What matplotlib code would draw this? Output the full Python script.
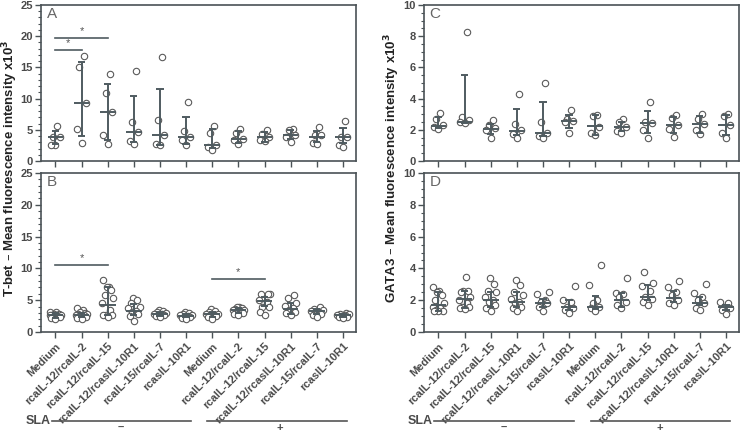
import numpy as np
import matplotlib
matplotlib.use("Agg")
import matplotlib.pyplot as plt
from matplotlib.ticker import MultipleLocator

plt.rcParams['font.family'] = ['Liberation Sans', 'DejaVu Sans']

categories = ["Medium", "rcaIL-12/rcaIL-2", "rcaIL-12/rcaIL-15", "rcaIL-12/rcasIL-10R1",
              "rcaIL-15/rcaIL-7", "rcasIL-10R1"] * 2
sla_groups = ["–", "+"]

# ---- Panel A: T-bet, 5 donors ----
A_points = [
    [5.6, 3.8, 3.8, 2.5, 2.5],
    [16.8, 15.0, 9.3, 5.1, 2.9],
    [14.0, 10.9, 7.9, 4.2, 2.7],
    [14.5, 6.3, 4.6, 3.2, 2.8],
    [16.6, 6.5, 4.2, 2.7, 2.5],
    [9.5, 4.8, 3.9, 3.4, 2.5],
    [5.6, 4.5, 2.5, 2.3, 1.8],
    [5.2, 4.5, 3.5, 3.4, 2.7],
    [5.0, 4.3, 3.9, 3.3, 3.2],
    [5.2, 4.9, 4.2, 3.8, 3.1],
    [5.5, 4.2, 4.2, 2.9, 2.7],
    [6.4, 3.9, 3.9, 2.6, 2.3],
]
A_median = [3.8, 9.3, 7.9, 4.6, 4.2, 3.9, 2.5, 3.5, 3.9, 4.2, 3.9, 3.9]
A_q1 = [2.8, 4.0, 3.4, 3.0, 2.6, 2.8, 2.1, 2.9, 3.1, 3.5, 3.0, 2.9]
A_q3 = [4.8, 15.9, 12.4, 10.4, 11.5, 7.1, 5.1, 4.8, 4.6, 5.0, 4.8, 5.3]

# ---- Panel B: T-bet, more donors ----
B_points = [
    [3.2, 3.1, 2.9, 2.8, 2.7, 2.6, 2.6, 2.5, 2.4, 2.3, 2.2, 2.0],
    [3.8, 3.5, 3.2, 3.0, 2.9, 2.8, 2.7, 2.6, 2.5, 2.4, 2.2, 2.0],
    [8.2, 7.1, 7.0, 6.6, 5.8, 5.3, 4.5, 3.5, 2.6, 2.6, 2.6, 2.4],
    [5.4, 5.1, 4.6, 4.0, 3.7, 3.3, 3.1, 2.8, 2.5, 1.7],
    [3.4, 3.3, 3.2, 3.0, 2.9, 2.8, 2.7, 2.6, 2.5, 2.4],
    [3.2, 3.0, 2.8, 2.7, 2.6, 2.5, 2.4, 2.3, 2.2, 2.1],
    [3.6, 3.3, 3.1, 2.9, 2.8, 2.7, 2.6, 2.5, 2.3, 2.1],
    [4.0, 3.9, 3.7, 3.6, 3.5, 3.4, 3.3, 3.2, 3.0, 2.8, 2.7],
    [5.9, 5.9, 5.9, 5.0, 4.7, 4.0, 3.9, 3.2, 2.7],
    [5.8, 5.3, 4.5, 4.1, 3.8, 3.5, 3.2, 3.0, 2.7],
    [3.9, 3.6, 3.4, 3.3, 3.2, 3.0, 2.8, 2.6, 2.4],
    [3.0, 2.9, 2.8, 2.7, 2.6, 2.5, 2.4, 2.3, 2.2],
]
B_median = [2.6, 2.7, 4.3, 3.3, 2.8, 2.5, 2.8, 3.4, 4.8, 3.6, 3.3, 2.6]
B_q1 = [2.2, 2.4, 2.6, 2.6, 2.5, 2.3, 2.4, 3.0, 4.1, 2.9, 2.8, 2.4]
B_q3 = [3.0, 3.0, 7.0, 4.4, 3.1, 2.8, 3.2, 3.7, 5.5, 4.6, 3.6, 2.8]

# ---- Panel C: GATA3, 5 donors ----
C_points = [
    [3.05, 2.7, 2.3, 2.15, 2.05],
    [8.25, 2.8, 2.6, 2.5, 2.45],
    [2.6, 2.3, 2.1, 2.0, 1.5],
    [4.3, 2.4, 2.0, 1.7, 1.5],
    [5.0, 2.5, 1.8, 1.6, 1.47],
    [3.27, 2.71, 2.54, 2.52, 1.8],
    [2.97, 2.9, 2.2, 1.8, 1.65],
    [2.7, 2.5, 2.2, 1.95, 1.8],
    [3.78, 2.5, 2.44, 2.0, 1.5],
    [2.97, 2.73, 2.3, 2.03, 1.57],
    [3.0, 2.7, 2.36, 2.0, 1.7],
    [3.0, 2.88, 2.3, 1.8, 1.47],
]
C_median = [2.25, 2.5, 2.07, 1.95, 1.8, 2.54, 2.26, 2.2, 2.44, 2.3, 2.36, 2.3]
C_q1 = [2.1, 2.45, 1.75, 1.65, 1.6, 2.1, 1.67, 1.9, 1.8, 1.8, 1.82, 1.67]
C_q3 = [2.84, 5.5, 2.4, 3.35, 3.76, 2.95, 2.95, 2.5, 3.18, 2.84, 2.87, 2.95]

# ---- Panel D: GATA3, more donors ----
D_points = [
    [2.85, 2.6, 2.5, 2.3, 2.0, 1.8, 1.6, 1.5, 1.4, 1.35, 1.3, 1.3],
    [3.45, 2.6, 2.55, 2.5, 2.2, 2.0, 1.8, 1.6, 1.55, 1.5, 1.45],
    [3.4, 3.05, 2.6, 2.5, 2.2, 2.0, 1.9, 1.7, 1.5, 1.3],
    [3.25, 2.95, 2.5, 2.3, 2.1, 1.9, 1.8, 1.6, 1.5, 1.3],
    [2.49, 2.37, 2.0, 1.9, 1.8, 1.6, 1.3],
    [2.9, 2.04, 1.9, 1.6, 1.5, 1.36, 1.2],
    [4.2, 2.93, 2.0, 1.8, 1.6, 1.5, 1.3],
    [3.4, 2.47, 2.37, 2.2, 1.9, 1.7, 1.5],
    [3.8, 3.1, 2.9, 2.6, 2.2, 2.1, 1.9, 1.7],
    [3.2, 2.8, 2.5, 2.3, 2.0, 1.8, 1.7],
    [3.0, 2.47, 2.2, 2.0, 1.8, 1.5, 1.36],
    [1.9, 1.8, 1.6, 1.5, 1.4, 1.16],
]
D_median = [1.7, 2.1, 2.0, 1.9, 1.83, 1.56, 1.56, 2.04, 2.2, 2.14, 1.85, 1.56]
D_q1 = [1.35, 1.5, 1.55, 1.55, 1.6, 1.4, 1.43, 1.6, 2.0, 1.9, 1.7, 1.4]
D_q3 = [2.5, 2.55, 2.5, 2.5, 2.1, 2.04, 2.27, 2.47, 2.93, 2.58, 2.2, 1.7]

# significance brackets: (start index, end index, height)
A_sig = [(0, 1, 17.8), (0, 2, 19.7)]
B_sig = [(0, 2, 10.5), (6, 8, 8.3)]

LINE = "#4f5b60"
PT = "#5a5a5a"
SPINE = "#4a5256"
W, H = 741, 433

fig = plt.figure(figsize=(W / 100, H / 100), dpi=100)


def px_axes(x0, y0, x1, y1):
    return fig.add_axes([x0 / W, 1 - y1 / H, (x1 - x0) / W, (y1 - y0) / H])


def jitter(n):
    base = [0.0, -0.16, 0.16, -0.08, 0.08, -0.22, 0.22, -0.12, 0.12, -0.04, 0.04, -0.19, 0.19]
    return np.array(base[:n])


def draw(ax, pts, med, q1, q3, ymax, ystep, letter, sig, show_x):
    x = np.arange(len(pts))
    for i, p in enumerate(pts):
        p = np.array(p)
        order = np.argsort(p)
        offs = np.empty(len(p))
        offs[order] = jitter(len(p))
        ax.plot(x[i] + offs, p, 'o', ms=4.6, mfc='white', mec=PT, mew=0.8,
                linestyle='none', zorder=2)
    ax.vlines(x, q1, q3, color=LINE, lw=1.4, zorder=3)
    ax.hlines(q1, x - 0.14, x + 0.14, color=LINE, lw=1.4, zorder=3)
    ax.hlines(q3, x - 0.14, x + 0.14, color=LINE, lw=1.4, zorder=3)
    ax.hlines(med, x - 0.3, x + 0.3, color=LINE, lw=1.4, zorder=3)
    for (a, b, h) in sig:
        ax.plot([a, b], [h, h], color=LINE, lw=1.2)
        ax.text((a + b) / 2, h + ymax * 0.012, "*", ha='center', va='bottom',
                fontsize=8, color='#555555')
    ax.set_xlim(-0.55, len(pts) - 0.5)
    ax.set_ylim(0, ymax)
    ax.yaxis.set_major_locator(MultipleLocator(ystep))
    ax.yaxis.set_minor_locator(MultipleLocator(ystep / 5 if ystep == 5 else ystep / 4))
    ax.set_xticks(x)
    if show_x:
        ax.set_xticklabels(categories, rotation=45, ha='right', rotation_mode='anchor',
                           fontsize=5.2, fontweight='bold', color='#4a4a4a')
    else:
        ax.set_xticklabels([])
    for s in ax.spines.values():
        s.set_color(SPINE)
        s.set_linewidth(1.2)
    ax.tick_params(axis='both', which='major', direction='out', length=4, width=1,
                   color=SPINE, labelsize=8, labelcolor='#4a4a4a', pad=2)
    ax.tick_params(axis='x', which='major', pad=2.5)
    ax.tick_params(axis='y', which='minor', direction='out', length=2, width=0.8, color=SPINE)
    for lab in ax.get_yticklabels():
        lab.set_fontweight('bold')
    ax.text(0.018, 0.985, letter, transform=ax.transAxes, ha='left', va='top',
            fontsize=11, color='#666666')


axA = px_axes(41, 5, 356, 161)
axB = px_axes(41, 173, 356, 332)
axC = px_axes(424, 5, 739, 161)
axD = px_axes(424, 173, 739, 332)

draw(axA, A_points, A_median, A_q1, A_q3, 25, 5, "A", A_sig, False)
draw(axB, B_points, B_median, B_q1, B_q3, 25, 5, "B", B_sig, True)
draw(axC, C_points, C_median, C_q1, C_q3, 10, 2, "C", [], False)
draw(axD, D_points, D_median, D_q1, D_q3, 10, 2, "D", [], True)

fig.text(10 / W, 1 - 168 / H, "T-bet – Mean fluorescence intensity x10$^\\mathbf{3}$",
         rotation=90, ha='center', va='center', fontsize=9.5, fontweight='bold', color='#222222')
fig.text(392 / W, 1 - 168 / H, "GATA3 – Mean fluorescence intensity x10$^\\mathbf{3}$",
         rotation=90, ha='center', va='center', fontsize=9.5, fontweight='bold', color='#222222')


def sla(x_text, segs, signs_x):
    yline = 1 - 421 / H
    fig.text(x_text / W, yline, "SLA", ha='left', va='center', fontsize=9,
             fontweight='bold', color='#4a4a4a')
    for (a, b), sx, sg in zip(segs, signs_x, sla_groups):
        fig.add_artist(plt.Line2D([a / W, b / W], [yline, yline], color='#555555', lw=1.2))
        fig.text(sx / W, 1 - 427.5 / H, sg, ha='center', va='center', fontsize=8,
                 fontweight='bold', color='#4a4a4a')


sla(26, [(52, 191), (207, 347)], [121, 280])
sla(408, [(434, 574), (591, 730)], [504, 660])

fig.savefig("out.png", dpi=100)
